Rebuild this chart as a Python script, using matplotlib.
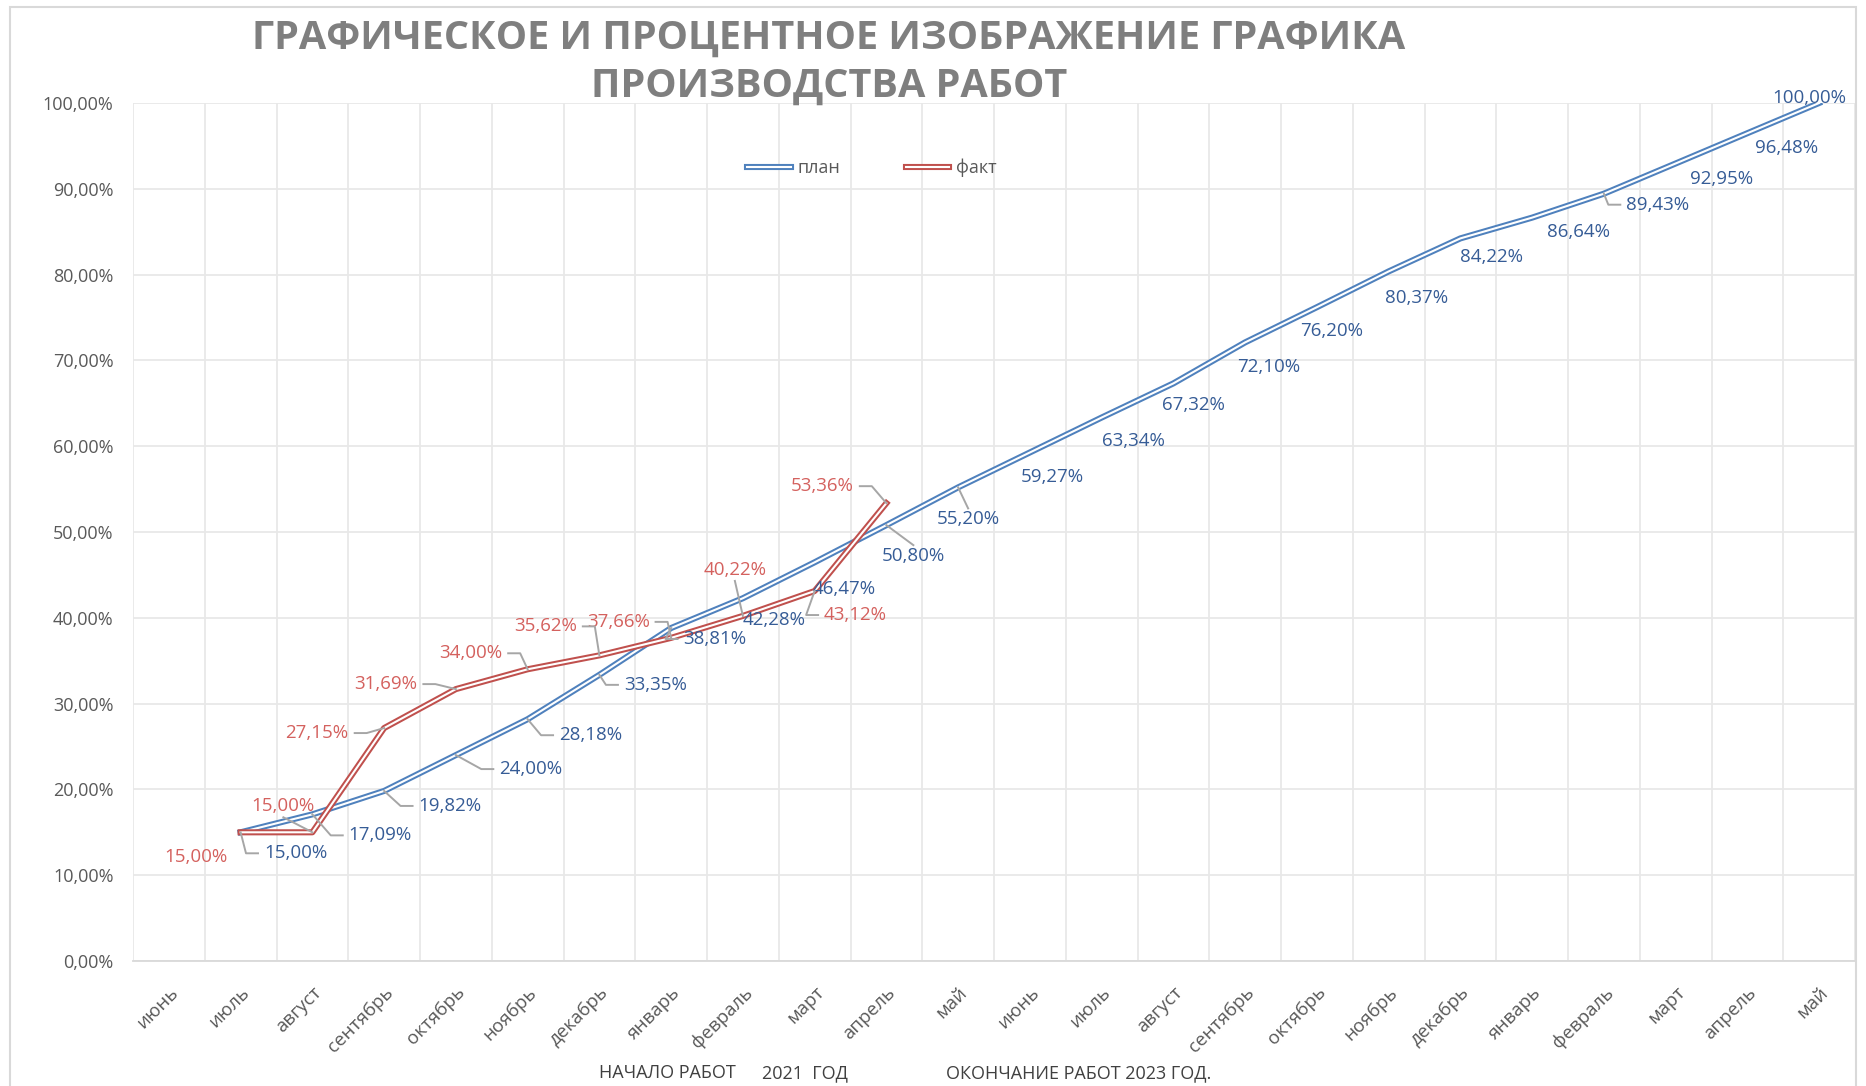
#!/usr/bin/env python3
import numpy as np
import matplotlib
matplotlib.use('Agg')
import matplotlib.pyplot as plt
import matplotlib.patheffects as pe
from matplotlib.lines import Line2D
from matplotlib.patches import Rectangle
from matplotlib.ticker import FuncFormatter
from matplotlib.transforms import IdentityTransform

plt.rcParams['font.family'] = ['Open Sans', 'DejaVu Sans']

# months from June 2021 to May 2023
months = ['июнь', 'июль', 'август', 'сентябрь', 'октябрь', 'ноябрь', 'декабрь',
          'январь', 'февраль', 'март', 'апрель', 'май',
          'июнь', 'июль', 'август', 'сентябрь', 'октябрь', 'ноябрь', 'декабрь',
          'январь', 'февраль', 'март', 'апрель', 'май']

nan = np.nan
plan = [nan, 15.00, 17.09, 19.82, 24.00, 28.18, 33.35, 38.81, 42.28, 46.47, 50.80, 55.20,
        59.27, 63.34, 67.32, 72.10, 76.20, 80.37, 84.22, 86.64, 89.43, 92.95, 96.48, 100.00]
fact = [nan, 15.00, 15.00, 27.15, 31.69, 34.00, 35.62, 37.66, 40.22, 43.12, 53.36,
        nan, nan, nan, nan, nan, nan, nan, nan, nan, nan, nan, nan, nan]

# label offsets from the point, pixels (right, down)
plan_offsets = [None, (55, 21), (68, 21), (66, 15), (75, 14), (63, 16), (56, 10), (44, 11),
                (31, 22), (30, 27), (27, 31), (10, 32), (22, 25), (32, 23), (20, 22),
                (24, 25), (15, 24), (28, 27), (31, 19), (46, 14), (54, 11), (46, 16),
                (39, 15), (-10, -5)]
fact_offsets = [None, (-45, 25), (-29, -26), (-67, 5), (-70, -5), (-57, -16), (-54, -29),
                (-53, -16), (-8, -46), (41, 24), (-64, -17)] + [None] * 13
plan_leaders = [1, 2, 3, 4, 5, 6, 7, 10, 11, 20]
fact_leaders = [2, 3, 4, 5, 6, 7, 8, 9, 10]

blue = '#4F81BD'
red = '#C0504D'
blue_txt = '#365C96'
red_txt = '#D4615E'
grey = '#595959'


def pct(v, _=None):
    return f'{v:.2f}%'.replace('.', ',')


def double(col):
    # Excel-style double line: coloured stroke with a white core
    return [pe.Stroke(linewidth=4.4, foreground=col), pe.Normal()]


fig = plt.figure(figsize=(18.66, 10.86), dpi=100)
ax = fig.add_axes([133 / 1866, 1 - 961 / 1086, (1855 - 133) / 1866, (961 - 103) / 1086])

x = np.arange(len(months))
ax.set_xlim(-0.5, len(months) - 0.5)
ax.set_ylim(0, 100)
ax.set_yticks(np.arange(0, 101, 10))
ax.yaxis.set_major_formatter(FuncFormatter(pct))
ax.set_xticks(x)
ax.set_xticklabels(months, rotation=45, ha='right', rotation_mode='anchor')
ax.set_xticks(np.arange(-0.5, len(months), 1), minor=True)
ax.grid(axis='y', which='major', color='#E8E8E8', lw=1.3)
ax.grid(axis='x', which='minor', color='#E8E8E8', lw=1.3)
ax.set_axisbelow(True)
ax.tick_params(which='both', length=0)
ax.tick_params(axis='y', pad=14, labelsize=13, labelcolor=grey)
ax.tick_params(axis='x', pad=16, labelsize=13.5, labelcolor=grey)
for s in ['top', 'right', 'left']:
    ax.spines[s].set_visible(False)
ax.spines['bottom'].set_color('#D9D9D9')
ax.spines['bottom'].set_linewidth(1.3)

ln_plan, = ax.plot(x, plan, color='white', lw=1.5, zorder=3, path_effects=double(blue), label='план')
ln_fact, = ax.plot(x, fact, color='white', lw=1.5, zorder=4, path_effects=double(red), label='факт')

labels = []
for vals, offs, leads, col in [(plan, plan_offsets, plan_leaders, blue_txt),
                               (fact, fact_offsets, fact_leaders, red_txt)]:
    for i, v in enumerate(vals):
        if np.isnan(v):
            continue
        dx, dy = offs[i]
        t = ax.annotate(pct(v), (i, v), xytext=(dx, -dy), textcoords='offset pixels',
                        ha='center', va='center', fontsize=13.5, color=col, zorder=6)
        if i in leads:
            labels.append((i, v, t))

# leader lines from label to point
fig.canvas.draw()
r = fig.canvas.get_renderer()
for i, v, t in labels:
    px, py = ax.transData.transform((i, v))
    bb = t.get_window_extent(r)
    yc = (bb.y0 + bb.y1) / 2
    if px < bb.x0 - 8:
        pts = [(px, py), (bb.x0 - 18, yc), (bb.x0 - 6, yc)]
    elif px > bb.x1 + 8:
        pts = [(px, py), (bb.x1 + 18, yc), (bb.x1 + 6, yc)]
    else:
        ty = bb.y1 + 2 if py > bb.y1 else bb.y0 - 2
        pts = [(px, py), ((bb.x0 + bb.x1) / 2, ty)]
    xs, ys = zip(*pts)
    fig.add_artist(Line2D(xs, ys, color='#A6A6A6', lw=1.4, transform=IdentityTransform(), zorder=5))

fig.legend([ln_plan, ln_fact], ['план', 'факт'],
           loc='center', bbox_to_anchor=(872 / 1866, 1 - 168 / 1086), ncol=2, frameon=False,
           fontsize=13, handlelength=2.4, handletextpad=0.4, columnspacing=3.6, labelcolor=grey)

# title
fig.text(829 / 1866, 1 - 38 / 1086, 'ГРАФИЧЕСКОЕ И ПРОЦЕНТНОЕ ИЗОБРАЖЕНИЕ ГРАФИКА',
         ha='center', va='center', fontsize=28.5, fontweight='bold', color='#7F7F7F')
fig.text(829 / 1866, 1 - 86 / 1086, 'ПРОИЗВОДСТВА РАБОТ',
         ha='center', va='center', fontsize=28.5, fontweight='bold', color='#7F7F7F')

# footer
fig.text(599 / 1866, 1 - 1073 / 1086, 'НАЧАЛО РАБОТ', ha='left', va='center', fontsize=13, color='#404040')
fig.text(762 / 1866, 1 - 1073 / 1086, '2021  ГОД', ha='left', va='center', fontsize=13, color='#404040')
fig.text(946 / 1866, 1 - 1073 / 1086, 'ОКОНЧАНИЕ РАБОТ 2023 ГОД.', ha='left', va='center', fontsize=13, color='#404040')

# chart border
fig.add_artist(Rectangle((10 / 1866, -0.02), (1856 - 10) / 1866, 1.02 - 7 / 1086,
                         transform=fig.transFigure, fill=False, edgecolor='#D9D9D9', lw=1.5))

fig.savefig('out.png', dpi=100, facecolor='white')
